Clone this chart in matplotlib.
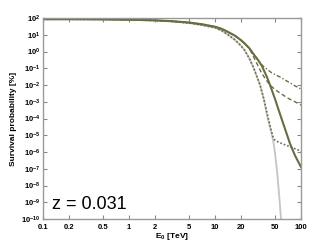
import numpy as np
import matplotlib
matplotlib.use('Agg')
import matplotlib.pyplot as plt
from matplotlib.ticker import FixedLocator, FixedFormatter, NullLocator

plt.rcParams['font.family'] = ['Liberation Sans', 'DejaVu Sans']
plt.rcParams['mathtext.fontset'] = 'custom'
plt.rcParams['mathtext.rm'] = 'Liberation Sans'
plt.rcParams['mathtext.bf'] = 'Liberation Sans:bold'

olive = '#6c6c42'

# energies [TeV] and log10 of survival probability [%]
e_low = [0.1, 0.2, 0.5, 1, 2, 3, 5, 7, 10, 12, 14, 17, 20, 22, 25]
solid_low = [1.93, 1.93, 1.92, 1.90, 1.86, 1.82, 1.73, 1.63, 1.48, 1.35, 1.18, 0.95, 0.68, 0.49, 0.2]
dotted_low = [1.92, 1.92, 1.91, 1.89, 1.85, 1.80, 1.70, 1.58, 1.42, 1.24, 1.02, 0.70, 0.35, 0.09, -0.4]

e_solid = e_low + [28, 31.6, 35, 40, 43.6, 50, 55, 65, 74.5, 85, 100]
lp_solid = solid_low + [-0.15, -0.5, -0.85, -1.5, -2.0, -2.85, -3.5, -4.6, -5.5, -6.2, -6.9]

e_dotted = e_low + [28, 33.4, 37, 40, 44, 47.6, 50, 55, 60, 70, 80, 90, 100]
lp_dotted = dotted_low + [-0.95, -2.0, -2.85, -3.6, -4.5, -5.15, -5.3, -5.42, -5.5, -5.63, -5.75, -5.85, -5.95]

e_gray = e_low + [28, 33.4, 37, 40, 44, 47.6, 50, 53, 56, 58.5, 61]
lp_gray = dotted_low + [-0.95, -2.0, -2.85, -3.75, -4.6, -5.35, -6.1, -7.3, -8.7, -10.0, -11.3]

e_dashdot = e_low + [28, 31.6, 35, 40, 45, 50, 57, 65, 75, 85, 100]
lp_dashdot = solid_low + [-0.15, -0.5, -0.8, -1.05, -1.25, -1.38, -1.52, -1.7, -1.88, -2.05, -2.24]

e_dashed = e_low + [28, 31.6, 34.9, 40, 43.6, 50, 57, 70, 85, 100]
lp_dashed = solid_low + [-0.3, -0.85, -1.3, -1.75, -2.0, -2.28, -2.48, -2.78, -3.0, -3.2]

xticks = [0.1, 0.2, 0.5, 1, 2, 5, 10, 20, 50, 100]
xticklabels = ['0.1', '0.2', '0.5', '1', '2', '5', '10', '20', '50', '100']
yexp = list(range(-10, 3))

fig = plt.figure(figsize=(3.32, 2.46), dpi=100)
ax = fig.add_axes([43/332, 1-219/246, 258/332, 201/246])

ax.plot(e_gray, 10**np.array(lp_gray), color='#c4c4c4', lw=1.3)
ax.plot(e_dotted, 10**np.array(lp_dotted), color=olive, lw=1.2, ls=(0, (1, 1.2)))
ax.plot(e_dashed, 10**np.array(lp_dashed), color=olive, lw=1.0, ls=(0, (3, 2)))
ax.plot(e_dashdot, 10**np.array(lp_dashdot), color=olive, lw=1.0, ls=(0, (3, 1.5, 1, 1.5)))
ax.plot(e_solid, 10**np.array(lp_solid), color=olive, lw=1.5)

ax.set_xscale('log')
ax.set_yscale('log')
ax.set_xlim(0.1, 100)
ax.set_ylim(1e-10, 1e2)

ax.xaxis.set_major_locator(FixedLocator(xticks))
ax.xaxis.set_major_formatter(FixedFormatter(xticklabels))
ax.xaxis.set_minor_locator(NullLocator())
ax.yaxis.set_major_locator(FixedLocator([10.0**k for k in yexp]))
ax.yaxis.set_major_formatter(FixedFormatter([r'$\mathbf{10^{%d}}$' % k for k in yexp]))
ax.yaxis.set_minor_locator(NullLocator())

ax.tick_params(which='major', direction='in', length=3, width=0.8, color='#888888',
               top=True, right=True, labelsize=5.5, pad=2)
ax.tick_params(axis='x', pad=3.5)
for lab in ax.get_xticklabels():
    lab.set_fontweight('bold')
for sp in ax.spines.values():
    sp.set_color('#999999')
    sp.set_linewidth(1.0)

ax.set_xlabel(r'E$_\mathbf{0}$ [TeV]', fontsize=6, fontweight='bold', labelpad=0)
ax.set_ylabel('Survival probability [%]', fontsize=6, fontweight='bold', labelpad=3)

ax.text(0.035, 0.05, 'z = 0.031', transform=ax.transAxes, fontsize=13)

fig.savefig('out.png', dpi=100)
